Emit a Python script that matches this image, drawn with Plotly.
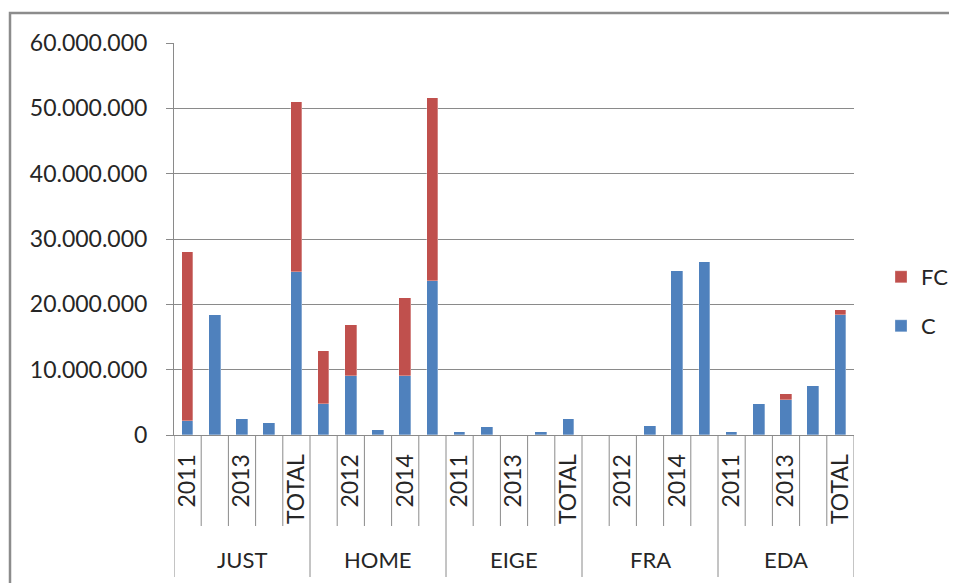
import plotly.graph_objects as go

groups = ["JUST", "HOME", "EIGE", "FRA", "EDA"]
years = ["2011", "2012", "2013", "2014", "TOTAL"]

c_values = [
    2200000, 18400000, 2400000, 1800000, 24900000,      # JUST
    4700000, 9100000, 700000, 9100000, 23600000,        # HOME
    450000, 1200000, 0, 450000, 2400000,                # EIGE
    0, 0, 1400000, 25100000, 26500000,                  # FRA
    450000, 4800000, 5300000, 7500000, 18300000,        # EDA
]
fc_values = [
    25800000, 0, 0, 0, 26100000,                        # JUST
    8100000, 7800000, 0, 11900000, 28000000,            # HOME
    0, 0, 0, 0, 0,                                      # EIGE
    0, 0, 0, 0, 0,                                      # FRA
    0, 0, 900000, 0, 800000,                            # EDA
]
y_ticks = [0, 10000000, 20000000, 30000000, 40000000, 50000000, 60000000]

n = len(groups) * len(years)
xs = list(range(n))
cat_labels = [years[i % len(years)] for i in xs]
shown_idx = [i for i in xs if i % 2 == 0]
shown_txt = [cat_labels[i] for i in shown_idx]

BLUE = "#4F81BD"
RED = "#C0504D"
GRID = "#8a8a8a"
TXT = "#262626"
FONT = "Lato"

# page body has an 8px margin; the figure is sized to fit inside the window
OFF = 8
W, H = 957 - OFF, 583 - OFF
L, T = 174 - OFF, 43 - OFF
R = W - (854 - OFF)
B = H - (435 - OFF)
PW = W - L - R
PH = H - T - B


def px_y(screen_y):
    return (435 - screen_y) / PH


def px_x(screen_x):
    return (screen_x - 174) / PW


fig = go.Figure()
fig.add_trace(go.Bar(x=xs, y=c_values, name="C", marker_color=BLUE, width=0.43,
                     marker_line=dict(color="rgba(255,255,255,0.5)", width=0.6),
                     legend="legend2", showlegend=True))
fig.add_trace(go.Bar(x=xs, y=fc_values, name="FC", marker_color=RED, width=0.43,
                     marker_line=dict(color="rgba(255,255,255,0.5)", width=0.6),
                     legend="legend", showlegend=True))

shapes = []
for i in range(n + 1):
    is_group = (i % len(years) == 0)
    shapes.append(dict(type="line", xref="x", yref="paper",
                       x0=i - 0.5, x1=i - 0.5, y0=0,
                       y1=px_y(577) if is_group else px_y(526),
                       line=dict(color=GRID, width=1)))
# outer chart border
shapes.append(dict(type="rect", xref="paper", yref="paper",
                   x0=px_x(10), x1=px_x(990),
                   y0=px_y(620), y1=px_y(13),
                   line=dict(color="#8c8c8c", width=2.5), fillcolor="rgba(0,0,0,0)"))

annotations = []
for g, name in enumerate(groups):
    annotations.append(dict(x=g * len(years) + 2, y=px_y(559), xref="x", yref="paper",
                            text=name, showarrow=False, xanchor="center", yanchor="middle",
                            font=dict(family=FONT, size=22, color=TXT)))

fig.update_layout(
    width=W, height=H,
    margin=dict(l=L, r=R, t=T, b=B, autoexpand=False),
    barmode="stack",
    showlegend=True,
    plot_bgcolor="white", paper_bgcolor="white",
    separators=",.",
    font=dict(family=FONT, size=22, color=TXT),
    xaxis=dict(range=[-0.5, n - 0.5], tickmode="array", tickvals=shown_idx, ticktext=shown_txt,
               tickangle=-90, showgrid=False, zeroline=False, showline=True,
               linecolor=GRID, linewidth=1, ticks="", ticklabelstandoff=9,
               tickfont=dict(family=FONT, size=23, color=TXT)),
    yaxis=dict(range=[0, 60000000], tickmode="array", tickvals=y_ticks, tickformat=",d",
               showgrid=True, gridcolor=GRID, gridwidth=1, zeroline=False,
               showline=True, linecolor=GRID, linewidth=1,
               ticks="outside", ticklen=7, tickcolor=GRID, ticklabelstandoff=14,
               tickfont=dict(family=FONT, size=23, color=TXT)),
    legend=dict(x=px_x(881), y=px_y(277), xanchor="left", yanchor="middle",
                font=dict(family=FONT, size=22, color=TXT), bgcolor="rgba(0,0,0,0)"),
    legend2=dict(x=px_x(881), y=px_y(326), xanchor="left", yanchor="middle",
                 font=dict(family=FONT, size=22, color=TXT), bgcolor="rgba(0,0,0,0)"),
    shapes=shapes,
    annotations=annotations,
    bargap=0,
)

fig.write_html("out.html")
